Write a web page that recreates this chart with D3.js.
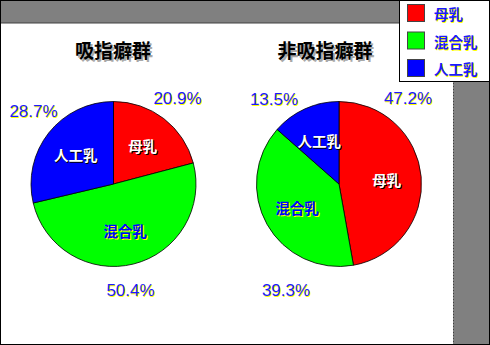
<!DOCTYPE html>
<html><head><meta charset="utf-8">
<script src="https://cdn.jsdelivr.net/npm/d3@7"></script>
<style>
html,body{margin:0;padding:0;background:#fff;}
svg{display:block;}
</style></head>
<body>
<svg id="chart" width="490" height="345"></svg>
<script>
const categories = ["母乳", "混合乳", "人工乳"];
const groupTitles = ["吸指癖群", "非吸指癖群"];
const suckingValues = [20.9, 50.4, 28.7];
const nonSuckingValues = [47.2, 39.3, 13.5];
const colors = ["#ff0000", "#00ff00", "#0000ff"];

const svg = d3.select("#chart");
const W = 490, H = 345;
const CJK = "'Noto Sans CJK JP','Noto Sans CJK SC',sans-serif";
const LAT = "'Liberation Sans',Arial,sans-serif";

// background frame
svg.append("rect").attr("x", 0).attr("y", 0).attr("width", W).attr("height", H).attr("fill", "#808080");
svg.append("rect").attr("x", 1).attr("y", 23).attr("width", 452).attr("height", 321).attr("fill", "#ffffff");
svg.append("line").attr("x1", 1).attr("x2", 453).attr("y1", 23).attr("y2", 23).attr("stroke", "#404040").attr("stroke-width", 1);
svg.append("line").attr("x1", 453.5).attr("x2", 453.5).attr("y1", 23).attr("y2", 344).attr("stroke", "#404040").attr("stroke-width", 1).attr("stroke-dasharray", "1,2");
svg.append("rect").attr("x", 0.5).attr("y", 0.5).attr("width", W - 1).attr("height", H - 1).attr("fill", "none").attr("stroke", "#000").attr("stroke-width", 1);

function shadowText(g, x, y, txt, opt) {
  const sx = opt.sdx ?? 1, sy = opt.sdy ?? 1;
  const anchor = opt.anchor || "middle";
  g.append("text").attr("x", x + sx).attr("y", y + sy).text(txt)
    .attr("text-anchor", anchor).attr("dominant-baseline", "central")
    .attr("font-family", opt.family).attr("font-size", opt.size).attr("font-weight", opt.weight || "normal")
    .attr("fill", opt.shadow);
  g.append("text").attr("x", x).attr("y", y).text(txt)
    .attr("text-anchor", anchor).attr("dominant-baseline", "central")
    .attr("font-family", opt.family).attr("font-size", opt.size).attr("font-weight", opt.weight || "normal")
    .attr("fill", opt.fill);
}

const R = 82.5;
const pie = d3.pie().sort(null).value(d => d);
const arc = d3.arc().innerRadius(0).outerRadius(R);
const labelArc = d3.arc().innerRadius(48).outerRadius(48);

const pies = [
  { values: suckingValues, cx: 113.5, cy: 184, titleX: 113, pctOffsets: [[64, -86], [17, 106], [-80, -73]] },
  { values: nonSuckingValues, cx: 339, cy: 184, titleX: 325, pctOffsets: [[69, -86], [-53, 106], [-65, -85]] }
];
const innerStyles = [
  { fill: "#ffffff", shadow: "#000000" },
  { fill: "#0000ff", shadow: "#ffff00" },
  { fill: "#ffffff", shadow: "#000000" }
];

pies.forEach((p, pi) => {
  const g = svg.append("g");
  shadowText(g, p.titleX, 49, groupTitles[pi], { family: CJK, size: 19, weight: "bold", fill: "#000", shadow: "#a8a8a8", sdx: 2, sdy: 2 });
  const pg = g.append("g").attr("transform", `translate(${p.cx},${p.cy})`);
  const arcs = pie(p.values);
  pg.selectAll("path").data(arcs).enter().append("path")
    .attr("d", arc).attr("fill", (d, i) => colors[i])
    .attr("stroke", "#000").attr("stroke-width", 0.8);
  arcs.forEach((d, i) => {
    const c = labelArc.centroid(d);
    shadowText(pg, c[0], c[1], categories[i], { family: CJK, size: 14.5, weight: "bold", fill: innerStyles[i].fill, shadow: innerStyles[i].shadow });
    const o = p.pctOffsets[i];
    shadowText(pg, o[0], o[1], d3.format(".1f")(d.data) + "%", { family: LAT, size: 17, fill: "#1a1aff", shadow: "#ffff00" });
  });
});

// legend
const lg = svg.append("g");
lg.append("rect").attr("x", 399.5).attr("y", 0.5).attr("width", 90).attr("height", 81).attr("fill", "#fff").attr("stroke", "#000").attr("stroke-width", 1);
const ly = d3.scalePoint().domain(categories).range([13.5, 68.5]);
categories.forEach((c, i) => {
  lg.append("rect").attr("x", 407.5).attr("y", ly(c) - 9).attr("width", 17).attr("height", 17)
    .attr("fill", colors[i]).attr("stroke", "#444").attr("stroke-width", 1);
  shadowText(lg, 434, ly(c), c, { family: CJK, size: 14.5, weight: "bold", fill: "#1a1aff", shadow: "#ffff00", anchor: "start" });
});
</script>
</body></html>
